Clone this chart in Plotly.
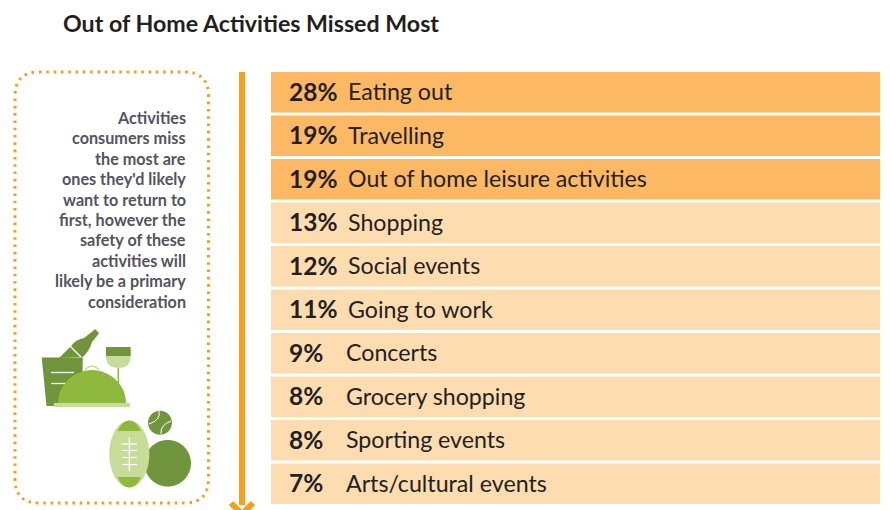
import plotly.graph_objects as go

# chart data
title = "Out of Home Activities Missed Most"
activities = ["Eating out", "Travelling", "Out of home leisure activities", "Shopping",
              "Social events", "Going to work", "Concerts", "Grocery shopping",
              "Sporting events", "Arts/cultural events"]
percents = [28, 19, 19, 13, 12, 11, 9, 8, 8, 7]
side_lines = ["Activities", "consumers miss", "the most are", "ones they'd likely",
              "want to return to", "first, however the", "safety of these",
              "activities will", "likely be a primary", "consideration"]

W, H = 890, 510
ORANGE = "#f99d1c"
DARK_ROW = "#fdb863"
LIGHT_ROW = "#fddcb0"
INK = "#231f20"
GREY = "#54535e"
GREEN = "#71953d"
LIME = "#8fb93d"
PALE = "#c8dc9a"
FONT = "Lato"

row_colors = [DARK_ROW if p >= 19 else LIGHT_ROW for p in percents]

fig = go.Figure()

# rows are all full width, the percent is only printed
fig.add_trace(go.Bar(
    y=activities, x=[1] * len(activities), orientation="h",
    marker=dict(color=row_colors, line_width=0), hoverinfo="skip", showlegend=False,
))
# invisible trace so the pixel axes exist
fig.add_trace(go.Scatter(x=[0], y=[0], xaxis="x2", yaxis="y2", mode="markers",
                         marker_opacity=0, hoverinfo="skip", showlegend=False))

shapes = []
annotations = []


def add_path(path, fill=None, line=None, width=0, dash=None):
    shapes.append(dict(type="path", xref="x2", yref="y2", path=path, fillcolor=fill,
                       line=dict(color=line, width=width, dash=dash), layer="above"))


def add_line(x0, y0, x1, y1, color, width):
    add_path(f"M{x0},{y0} L{x1},{y1}", line=color, width=width)


def ellipse(cx, cy, rx, ry):
    k = 0.5523
    return (f"M{cx - rx},{cy} C{cx - rx},{cy - k * ry} {cx - k * rx},{cy - ry} {cx},{cy - ry} "
            f"C{cx + k * rx},{cy - ry} {cx + rx},{cy - k * ry} {cx + rx},{cy} "
            f"C{cx + rx},{cy + k * ry} {cx + k * rx},{cy + ry} {cx},{cy + ry} "
            f"C{cx - k * rx},{cy + ry} {cx - rx},{cy + k * ry} {cx - rx},{cy} Z")


# dotted box on the left
L, R, T, B, C = 15, 208.5, 72, 503, 24
add_path(f"M{L + C},{T} L{R - C},{T} Q{R},{T} {R},{T + C} L{R},{B - C} Q{R},{B} {R - C},{B} "
         f"L{L + C},{B} Q{L},{B} {L},{B - C} L{L},{T + C} Q{L},{T} {L + C},{T} Z",
         line=ORANGE, width=3, dash="2.6px,4.7px")

# arrow
add_path("M239,72 L245,72 L245,505 L239,505 Z", fill=ORANGE)
add_path("M231,503 L242,514 L253,503", line=ORANGE, width=6)

# bottle and bucket
add_path("M59,358 L72,345 Q75,340 84,338 L93,331 L95,329 L99,333 L97,336 L92,342 "
         "Q90,350 83,357 Z", fill=GREEN)
add_line(70, 346, 81, 357, "white", 1.3)
add_path("M41.7,357.5 L82.8,357.5 L82,406 L46.5,406 Z", fill=GREEN)
add_line(51, 372.5, 74, 372.5, "white", 1.3)
add_line(51, 383.5, 65, 383.5, "white", 1.3)

# wine glass
add_line(118.3, 368, 118.3, 385, LIME, 1.5)
add_path("M106,347 L130.7,347 L130.7,356 L106,356 Z", fill=GREEN)
add_path("M106,356 L130.7,356 Q130.7,368 118.3,368 Q106,368 106,356 Z", fill=PALE)

# cloche
add_path("M85,370 Q92,362 99,370", line=PALE, width=1.5)
add_path("M58,403 C58,385 74,370 92,370 C110,370 126,385 126,403 Z", fill=LIME)
add_path("M54,403 L130,403 L130,407 L54,407 Z", fill=PALE)

# balls
add_path(ellipse(167.7, 463.3, 23.3, 23.3), fill=GREEN)
add_path(ellipse(160, 422.7, 12, 12), fill=GREEN)
add_path("M159,411 Q161,420 149,424", line="white", width=1)
add_path("M171,421 Q160,425 161,434", line="white", width=1)

# football
add_path(ellipse(129.3, 454, 20, 33.5), fill=PALE)
add_path("M117.5,431 Q122,420.5 129.3,420.5 Q136.5,420.5 141,431 Z", fill=LIME)
add_path("M117.5,477 Q122,487.5 129.3,487.5 Q136.5,487.5 141,477 Z", fill=LIME)
add_line(129.3, 437, 129.3, 471, "white", 1.2)
for ly in [444, 450.5, 457.5, 464.5]:
    add_line(122, ly, 137, ly, "white", 1.2)

# title
annotations.append(dict(text=f"<b>{title}</b>", xref="x2", yref="y2", x=61, y=23,
                        xanchor="left", yanchor="middle", showarrow=False,
                        font=dict(family=FONT, size=23.2, color=INK)))

# side text
for i, line in enumerate(side_lines):
    annotations.append(dict(text=f"<b>{line}</b>", xref="x2", yref="y2", x=188, y=117.5 + i * 20.4,
                            xanchor="right", yanchor="middle", showarrow=False,
                            font=dict(family=FONT, size=16.2, color=GREY)))

# row labels
for name, p in zip(activities, percents):
    annotations.append(dict(text=f"<b>{p}%</b>", xref="x2", yref="y", x=287, y=name, yshift=1,
                            xanchor="left", yanchor="middle", showarrow=False,
                            font=dict(family=FONT, size=24.5, color=INK)))
    annotations.append(dict(text=name, xref="x2", yref="y", x=346 if p >= 10 else 344, y=name, yshift=1,
                            xanchor="left", yanchor="middle", showarrow=False,
                            font=dict(family=FONT, size=23.2, color=INK)))

fig.update_layout(
    width=W, height=H, margin=dict(l=0, r=0, t=0, b=0),
    paper_bgcolor="white", plot_bgcolor="rgba(0,0,0,0)", bargap=0.07,
    shapes=shapes, annotations=annotations,
    xaxis=dict(domain=[271 / W, 880 / W], range=[0, 1], visible=False, fixedrange=True),
    yaxis=dict(domain=[1 - 505.5 / H, 1 - 70.5 / H], autorange="reversed", visible=False, fixedrange=True),
    xaxis2=dict(domain=[0, 1], range=[0, W], visible=False, anchor="y2", fixedrange=True),
    yaxis2=dict(domain=[0, 1], range=[H, 0], visible=False, anchor="x2", fixedrange=True),
)

fig.write_html("out.html", config={"displayModeBar": False},
               post_script="document.body.style.margin='0';")
